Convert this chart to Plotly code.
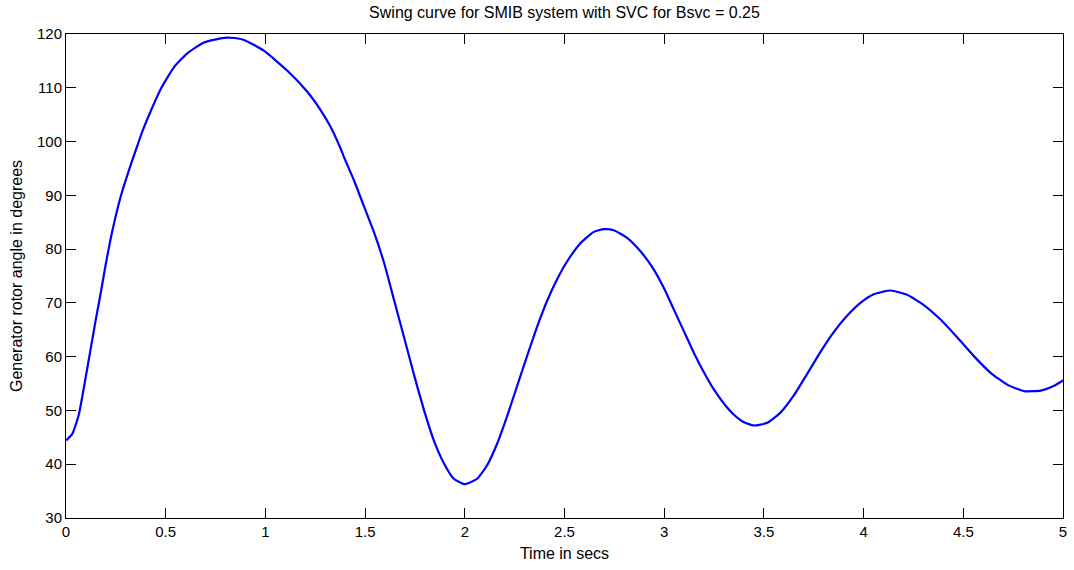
import plotly.graph_objects as go

time_s = [0.000, 0.031, 0.064, 0.098, 0.123, 0.148, 0.173, 0.198, 0.232, 0.273,
          0.315, 0.349, 0.382, 0.424, 0.474, 0.541, 0.608, 0.691, 0.775, 0.825,
          0.892, 0.992, 1.109, 1.209, 1.276, 1.326, 1.376, 1.393, 1.443, 1.494,
          1.544, 1.594, 1.644, 1.694, 1.744, 1.795, 1.845, 1.895, 1.945, 2.000,
          2.062, 2.112, 2.162, 2.212, 2.263, 2.313, 2.363, 2.413, 2.463, 2.513,
          2.580, 2.647, 2.697, 2.747, 2.814, 2.881, 2.948, 2.998, 3.048, 3.099,
          3.149, 3.199, 3.249, 3.299, 3.350, 3.400, 3.450, 3.517, 3.583, 3.650,
          3.717, 3.784, 3.851, 3.917, 3.984, 4.051, 4.135, 4.218, 4.302, 4.386,
          4.469, 4.553, 4.637, 4.720, 4.804, 4.888, 4.955, 5.000]
rotor_angle = [44.4, 45.6, 49.2, 56.0, 61.3, 66.6, 71.6, 76.9, 83.3, 89.6,
               94.6, 98.3, 101.8, 105.6, 109.7, 113.8, 116.4, 118.4, 119.2, 119.3,
               118.9, 116.9, 113.2, 109.3, 105.9, 102.8, 98.8, 97.2, 92.9, 88.0,
               83.2, 77.6, 70.7, 63.8, 56.8, 50.1, 44.4, 40.2, 37.3, 36.3,
               37.3, 39.8, 43.8, 48.9, 54.6, 60.2, 65.6, 70.4, 74.4, 77.7,
               81.1, 83.2, 83.7, 83.5, 82.1, 79.6, 76.2, 72.8, 68.8, 64.7,
               60.7, 57.1, 53.9, 51.3, 49.2, 47.8, 47.2, 47.7, 49.6, 52.8,
               56.8, 60.9, 64.6, 67.6, 70.0, 71.6, 72.3, 71.5, 69.6, 66.9,
               63.6, 60.1, 57.0, 54.8, 53.6, 53.7, 54.6, 55.6]

x_ticks = [0, 0.5, 1, 1.5, 2, 2.5, 3, 3.5, 4, 4.5, 5]
x_tick_labels = ["0", "0.5", "1", "1.5", "2", "2.5", "3", "3.5", "4", "4.5", "5"]
y_ticks = [30, 40, 50, 60, 70, 80, 90, 100, 110, 120]
y_tick_labels = [str(v) for v in y_ticks]

FONT = "Liberation Sans, Arial, Helvetica, sans-serif"

fig = go.Figure()
fig.add_trace(go.Scatter(
    x=time_s, y=rotor_angle, mode="lines",
    line=dict(color="#0000FF", width=2.2, shape="spline", smoothing=0.5),
    showlegend=False, hoverinfo="skip", cliponaxis=False,
))

axis_common = dict(
    showgrid=False, zeroline=False, showline=True, linecolor="black", linewidth=1,
    mirror="ticks", ticks="inside", ticklen=10, tickwidth=1, tickcolor="black",
    tickfont=dict(family=FONT, size=15, color="black"), automargin=False,
)

fig.update_layout(
    width=1074, height=570,
    margin=dict(l=66, r=11, t=34, b=52, pad=0),
    paper_bgcolor="white", plot_bgcolor="white",
    title=dict(text="Swing curve for SMIB system with SVC for Bsvc = 0.25",
               x=0.5, xref="paper", y=1 - 12 / 570, yref="container",
               xanchor="center", yanchor="middle",
               font=dict(family=FONT, size=16, color="black")),
    xaxis=dict(range=[0, 5], tickvals=x_ticks, ticktext=x_tick_labels,
               title=dict(text="Time in secs", standoff=8,
                          font=dict(family=FONT, size=16, color="black")),
               **axis_common),
    yaxis=dict(range=[30, 120], tickvals=y_ticks, ticktext=y_tick_labels,
               title=dict(text="Generator rotor angle in degrees", standoff=10,
                          font=dict(family=FONT, size=16, color="black")),
               **axis_common),
)

fig.write_html("out.html")
